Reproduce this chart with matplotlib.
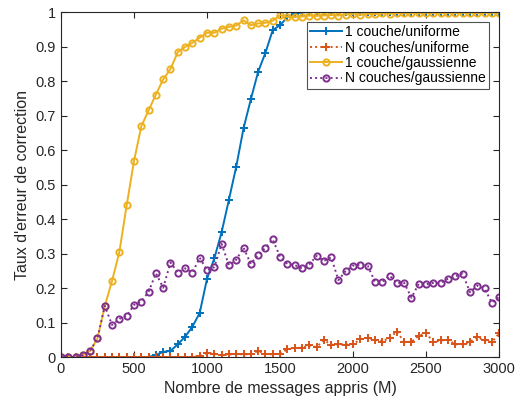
import numpy as np
import matplotlib.pyplot as plt

plt.rcParams['font.family'] = ['Liberation Sans', 'DejaVu Sans']

# number of learned messages (M)
messages = np.arange(0, 3001, 50)

# 1 couche/uniforme
un_couche_unif = [0] * 13 + [
    0.006, 0.015, 0.018, 0.037, 0.059, 0.088, 0.128, 0.227, 0.286, 0.362,
    0.456, 0.552, 0.663, 0.747, 0.827, 0.882, 0.948, 0.962, 0.985, 0.995,
    0.999] + [1.0] * 27

# N couches/uniforme
n_couches_unif = [0] * 19 + [
    0.003, 0.012, 0.010, 0.005, 0.008, 0.008, 0.008, 0.008, 0.018, 0.008,
    0.008, 0.010, 0.022, 0.027, 0.027, 0.034, 0.029, 0.049, 0.036, 0.037,
    0.036, 0.037, 0.052, 0.056, 0.050, 0.045, 0.056, 0.074, 0.044, 0.044,
    0.062, 0.069, 0.044, 0.048, 0.050, 0.037, 0.037, 0.044, 0.058, 0.048,
    0.043, 0.069]

# 1 couche/gaussienne
un_couche_gauss = [
    0, 0, 0, 0.005, 0.018, 0.054, 0.148, 0.221, 0.305, 0.440,
    0.568, 0.669, 0.715, 0.761, 0.805, 0.835, 0.884, 0.899, 0.911, 0.926,
    0.940, 0.940, 0.952, 0.957, 0.961, 0.976, 0.962, 0.967, 0.969, 0.975,
    0.991, 0.986, 0.986, 0.987, 0.990, 0.989, 0.990, 0.992, 0.990, 0.993,
    0.994, 0.992, 0.995, 0.994, 0.996, 0.995, 0.997, 0.996, 0.997, 0.996,
    0.998, 0.997, 0.997, 0.998, 0.997, 0.998, 0.998, 0.997, 0.998, 0.998,
    0.998]

# N couches/gaussienne
n_couches_gauss = [
    0, 0, 0, 0.005, 0.018, 0.054, 0.148, 0.093, 0.111, 0.119,
    0.151, 0.161, 0.189, 0.243, 0.201, 0.274, 0.245, 0.257, 0.245, 0.288,
    0.252, 0.261, 0.328, 0.266, 0.282, 0.317, 0.270, 0.297, 0.317, 0.341,
    0.291, 0.270, 0.267, 0.257, 0.268, 0.293, 0.279, 0.289, 0.223, 0.250,
    0.265, 0.268, 0.265, 0.218, 0.218, 0.236, 0.215, 0.215, 0.172, 0.213,
    0.211, 0.215, 0.215, 0.227, 0.234, 0.242, 0.188, 0.207, 0.199, 0.158,
    0.174]

fig = plt.figure(figsize=(5.21, 4.03), dpi=100)
ax = fig.add_axes([0.117, 0.114, 0.841, 0.856])

lw = 1.4
ax.plot(messages, un_couche_unif, '-', color='#0072BD', lw=lw,
        marker='+', ms=6, mew=1.4, label='1 couche/uniforme')
ax.plot(messages, n_couches_unif, ':', color='#D95319', lw=lw,
        marker='+', ms=6, mew=1.4, label='N couches/uniforme')
ax.plot(messages, un_couche_gauss, '-', color='#EDB120', lw=lw,
        marker='o', ms=4.5, mew=1.4, mfc='none', label='1 couche/gaussienne')
ax.plot(messages, n_couches_gauss, ':', color='#7E2F8E', lw=lw,
        marker='o', ms=4.5, mew=1.4, mfc='none', label='N couches/gaussienne')

ax.set_xlim(0, 3000)
ax.set_ylim(0, 1)
ax.set_xticks(np.arange(0, 3001, 500))
yt = np.round(np.arange(0, 1.01, 0.1), 1)
ax.set_yticks(yt)
ax.set_yticklabels(['0'] + ['%.1f' % v for v in yt[1:-1]] + ['1'])
ax.tick_params(direction='in', top=True, right=True, labelsize=10.5,
               color='#262626', labelcolor='#262626', length=4)
for s in ax.spines.values():
    s.set_color('#262626')
    s.set_linewidth(0.8)

ax.set_xlabel('Nombre de messages appris (M)', fontsize=11.5, color='#262626')
ax.set_ylabel("Taux d'erreur de correction", fontsize=11.5, color='#262626')

leg = ax.legend(loc='upper right', fontsize=10, frameon=True, fancybox=False,
                edgecolor='#262626', handlelength=2.3, borderpad=0.25,
                labelspacing=0.1, handletextpad=0.2, borderaxespad=0.7)
leg.get_frame().set_linewidth(0.8)

fig.savefig('out.png', dpi=100)
